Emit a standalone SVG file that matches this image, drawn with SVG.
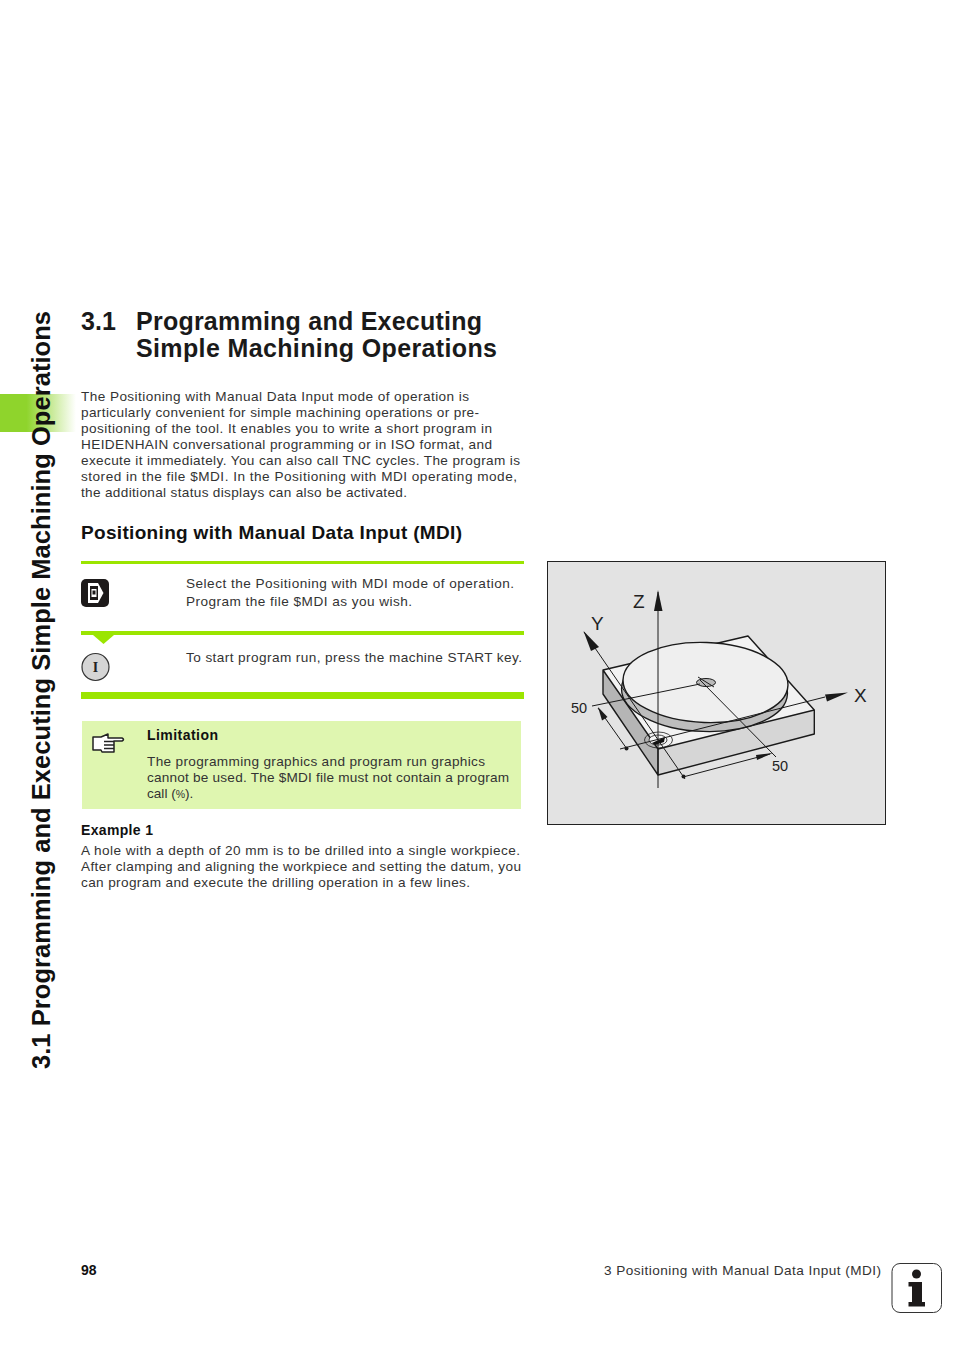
<svg xmlns="http://www.w3.org/2000/svg" width="954" height="1348" viewBox="0 0 954 1348">
<style>
text{font-family:"Liberation Sans",Arial,sans-serif;fill:#333}
.b{font-size:13.6px}
.bold{font-weight:700;fill:#111}
.h{font-size:25px;font-weight:700;fill:#1a1a1a}
.l{fill:none;stroke:#1a1a1a;stroke-width:1}
.e{fill:none;stroke:#1a1a1a;stroke-width:1.4;stroke-linejoin:round}
.d{font-size:14.5px;fill:#222}
.a{font-size:19px;fill:#222}
</style>
<defs>
<linearGradient id="tab" x1="0" x2="1" y1="0" y2="0"><stop offset="0" stop-color="#8fd42c"/><stop offset=".35" stop-color="#8fd42c"/><stop offset="1" stop-color="#8fd42c" stop-opacity="0"/></linearGradient>
</defs>
<rect width="954" height="1348" fill="#fff"/>
<g id="side-tab"><rect x="0" y="394" width="76" height="38" fill="url(#tab)"/></g>
<text id="side-title" transform="translate(50 1069) rotate(-90)" font-size="25.5" class="bold" textLength="758" lengthAdjust="spacing" style="fill:#111">3.1 Programming and Executing Simple Machining Operations</text>
<g id="heading">
<text class="h" x="81" y="330" textLength="35">3.1</text>
<text class="h" x="136" y="330" textLength="346">Programming and Executing</text>
<text class="h" x="136" y="357" textLength="361">Simple Machining Operations</text>
</g>
<g id="intro">
<text class="b" x="81" y="401" textLength="388">The Positioning with Manual Data Input mode of operation is</text>
<text class="b" x="81" y="417" textLength="398">particularly convenient for simple machining operations or pre-</text>
<text class="b" x="81" y="433" textLength="411">positioning of the tool. It enables you to write a short program in</text>
<text class="b" x="81" y="449" textLength="411">HEIDENHAIN conversational programming or in ISO format, and</text>
<text class="b" x="81" y="465" textLength="439">execute it immediately. You can also call TNC cycles. The program is</text>
<text class="b" x="81" y="481" textLength="436">stored in the file $MDI. In the Positioning with MDI operating mode,</text>
<text class="b" x="81" y="497" textLength="326">the additional status displays can also be activated.</text>
</g>
<text id="subheading" x="81" y="539" font-size="19" class="bold" textLength="381">Positioning with Manual Data Input (MDI)</text>
<g id="step-1">
<rect x="81" y="561" width="443" height="3" fill="#9be500"/>
<rect x="81" y="579" width="28" height="28" rx="5" fill="#1d1a1a"/>
<path d="M88 583H98L103.500 593L98 603H88Z" fill="#fff"/>
<path d="M90 586H98V600H90Z" fill="#1d1a1a"/>
<rect x="91.500" y="589" width="5" height="8" fill="#fff"/>
<rect x="92.500" y="590.500" width="3" height="4" fill="#1d1a1a"/>
<text class="b" x="186" y="588" textLength="328">Select the Positioning with MDI mode of operation.</text>
<text class="b" x="186" y="606" textLength="226">Program the file $MDI as you wish.</text>
</g>
<g id="step-2">
<rect x="81" y="631" width="443" height="4" fill="#9be500"/>
<path d="M93 635H114L103.500 644Z" fill="#9be500"/>
<circle cx="95.500" cy="667" r="13.500" fill="#d5d5d5" stroke="#333" stroke-width="1.200"/>
<text x="95.500" y="672" text-anchor="middle" font-size="14" font-weight="700" style="font-family:'Liberation Serif',serif;fill:#222">I</text>
<text class="b" x="186" y="662" textLength="336">To start program run, press the machine START key.</text>
<rect x="81" y="692" width="443" height="7" fill="#9be500"/>
</g>
<g id="note">
<rect x="82" y="721" width="439" height="88" fill="#dff6b0"/>
<g fill="#fff" stroke="#222" stroke-width="1.500" stroke-linejoin="round">
<path d="M93 737H101L108 734V738H122Q125 739.500 122 741H114V752H102L101 750H93Z"/>
<path d="M104 741.500H114M104 745H114M104 748.500H114" fill="none"/>
</g>
<text x="147" y="740" font-size="14" class="bold" textLength="71">Limitation</text>
<text class="b" x="147" y="766" textLength="338">The programming graphics and program run graphics</text>
<text class="b" x="147" y="782" textLength="362">cannot be used. The $MDI file must not contain a program</text>
<text class="b" x="147" y="798">call (<tspan font-size="10.500">%</tspan>).</text>
</g>
<g id="example">
<text x="81" y="835" font-size="14" class="bold" textLength="72">Example 1</text>
<text class="b" x="81" y="855" textLength="439">A hole with a depth of 20 mm is to be drilled into a single workpiece.</text>
<text class="b" x="81" y="871" textLength="440">After clamping and aligning the workpiece and setting the datum, you</text>
<text class="b" x="81" y="887" textLength="389">can program and execute the drilling operation in a few lines.</text>
</g>
<g id="figure">
<rect x="547.500" y="561.500" width="338" height="263" fill="#e3e3e3" stroke="#222" stroke-width="1"/>
<path d="M603 670L748 636L814.300 710L658 749Z" fill="#f2f2f2"/>
<path d="M603 670L658 749V775L603 694Z" fill="#b5b5b5"/>
<path d="M658 749L814.300 710V734L658 775Z" fill="#d6d6d6"/>
<path class="e" d="M603 670L748 636L814.300 710L658 749ZM603 670V694L658 775L814.300 734V710M658 749V775"/>
<ellipse cx="704.500" cy="691" rx="83" ry="40.500" transform="rotate(2 704.500 691)" fill="#bdbdbd" stroke="#1a1a1a" stroke-width="1.300"/>
<ellipse cx="705.500" cy="682.500" rx="82.500" ry="40" transform="rotate(2 705.500 682.500)" fill="#efefef" stroke="#1a1a1a" stroke-width="1.400"/>
<ellipse cx="706" cy="682.500" rx="9.500" ry="4" fill="#b9b9b9" stroke="#1a1a1a" stroke-width="1"/>
<ellipse cx="658.500" cy="740" rx="14" ry="8" fill="none" stroke="#1a1a1a" stroke-width=".8"/>
<ellipse cx="658" cy="740" rx="9" ry="5" fill="#f5f5f5" stroke="#1a1a1a" stroke-width=".8"/>
<path d="M652 743L665 737L664 742L655 745Z" fill="#111"/>
<g id="connectors">
<line class="l" x1="658" y1="788" x2="658" y2="592"/>
<path d="M658 590L662.500 611H654Z" fill="#1a1a1a"/>
<line class="l" x1="685" y1="779" x2="584" y2="632"/>
<path d="M583.500 631L599 647L591 651Z" fill="#1a1a1a"/>
<line class="l" x1="620" y1="749" x2="825" y2="697"/>
<path d="M848 692.500L827 701.500L825 694.500Z" fill="#1a1a1a"/>
<line class="l" x1="592" y1="706" x2="700" y2="684"/>
<line class="l" x1="700" y1="680" x2="776" y2="757"/>
<line class="l" x1="698" y1="677" x2="714" y2="687"/>
<line class="l" x1="627" y1="749" x2="598" y2="708"/>
<path d="M598 707L607.500 717L602 720.500Z" fill="#1a1a1a"/>
<circle cx="626.500" cy="748.500" r="2" fill="#1a1a1a"/>
<line class="l" x1="683" y1="777" x2="770" y2="754"/>
<path d="M773 753L757 760L756 755Z" fill="#1a1a1a"/>
<circle cx="683.500" cy="776.500" r="2" fill="#1a1a1a"/>
</g>
<text class="a" x="633" y="608">Z</text>
<text class="a" x="591" y="630">Y</text>
<text class="a" x="854" y="702">X</text>
<text class="d" x="571" y="713">50</text>
<text class="d" x="772" y="771">50</text>
</g>
<g id="footer">
<text x="81" y="1275" font-size="14" class="bold">98</text>
<text class="b" x="604" y="1275" textLength="277">3 Positioning with Manual Data Input (MDI)</text>
<rect x="892" y="1263.500" width="49.500" height="49" rx="8" fill="#fff" stroke="#333" stroke-width="1"/>
<circle cx="916.500" cy="1274" r="4.500" fill="#1d1a1a"/>
<path d="M908.500 1282H922V1302H925V1306.500H908.500V1302H912V1286.500H908.500Z" fill="#1d1a1a"/>
</g>
</svg>
